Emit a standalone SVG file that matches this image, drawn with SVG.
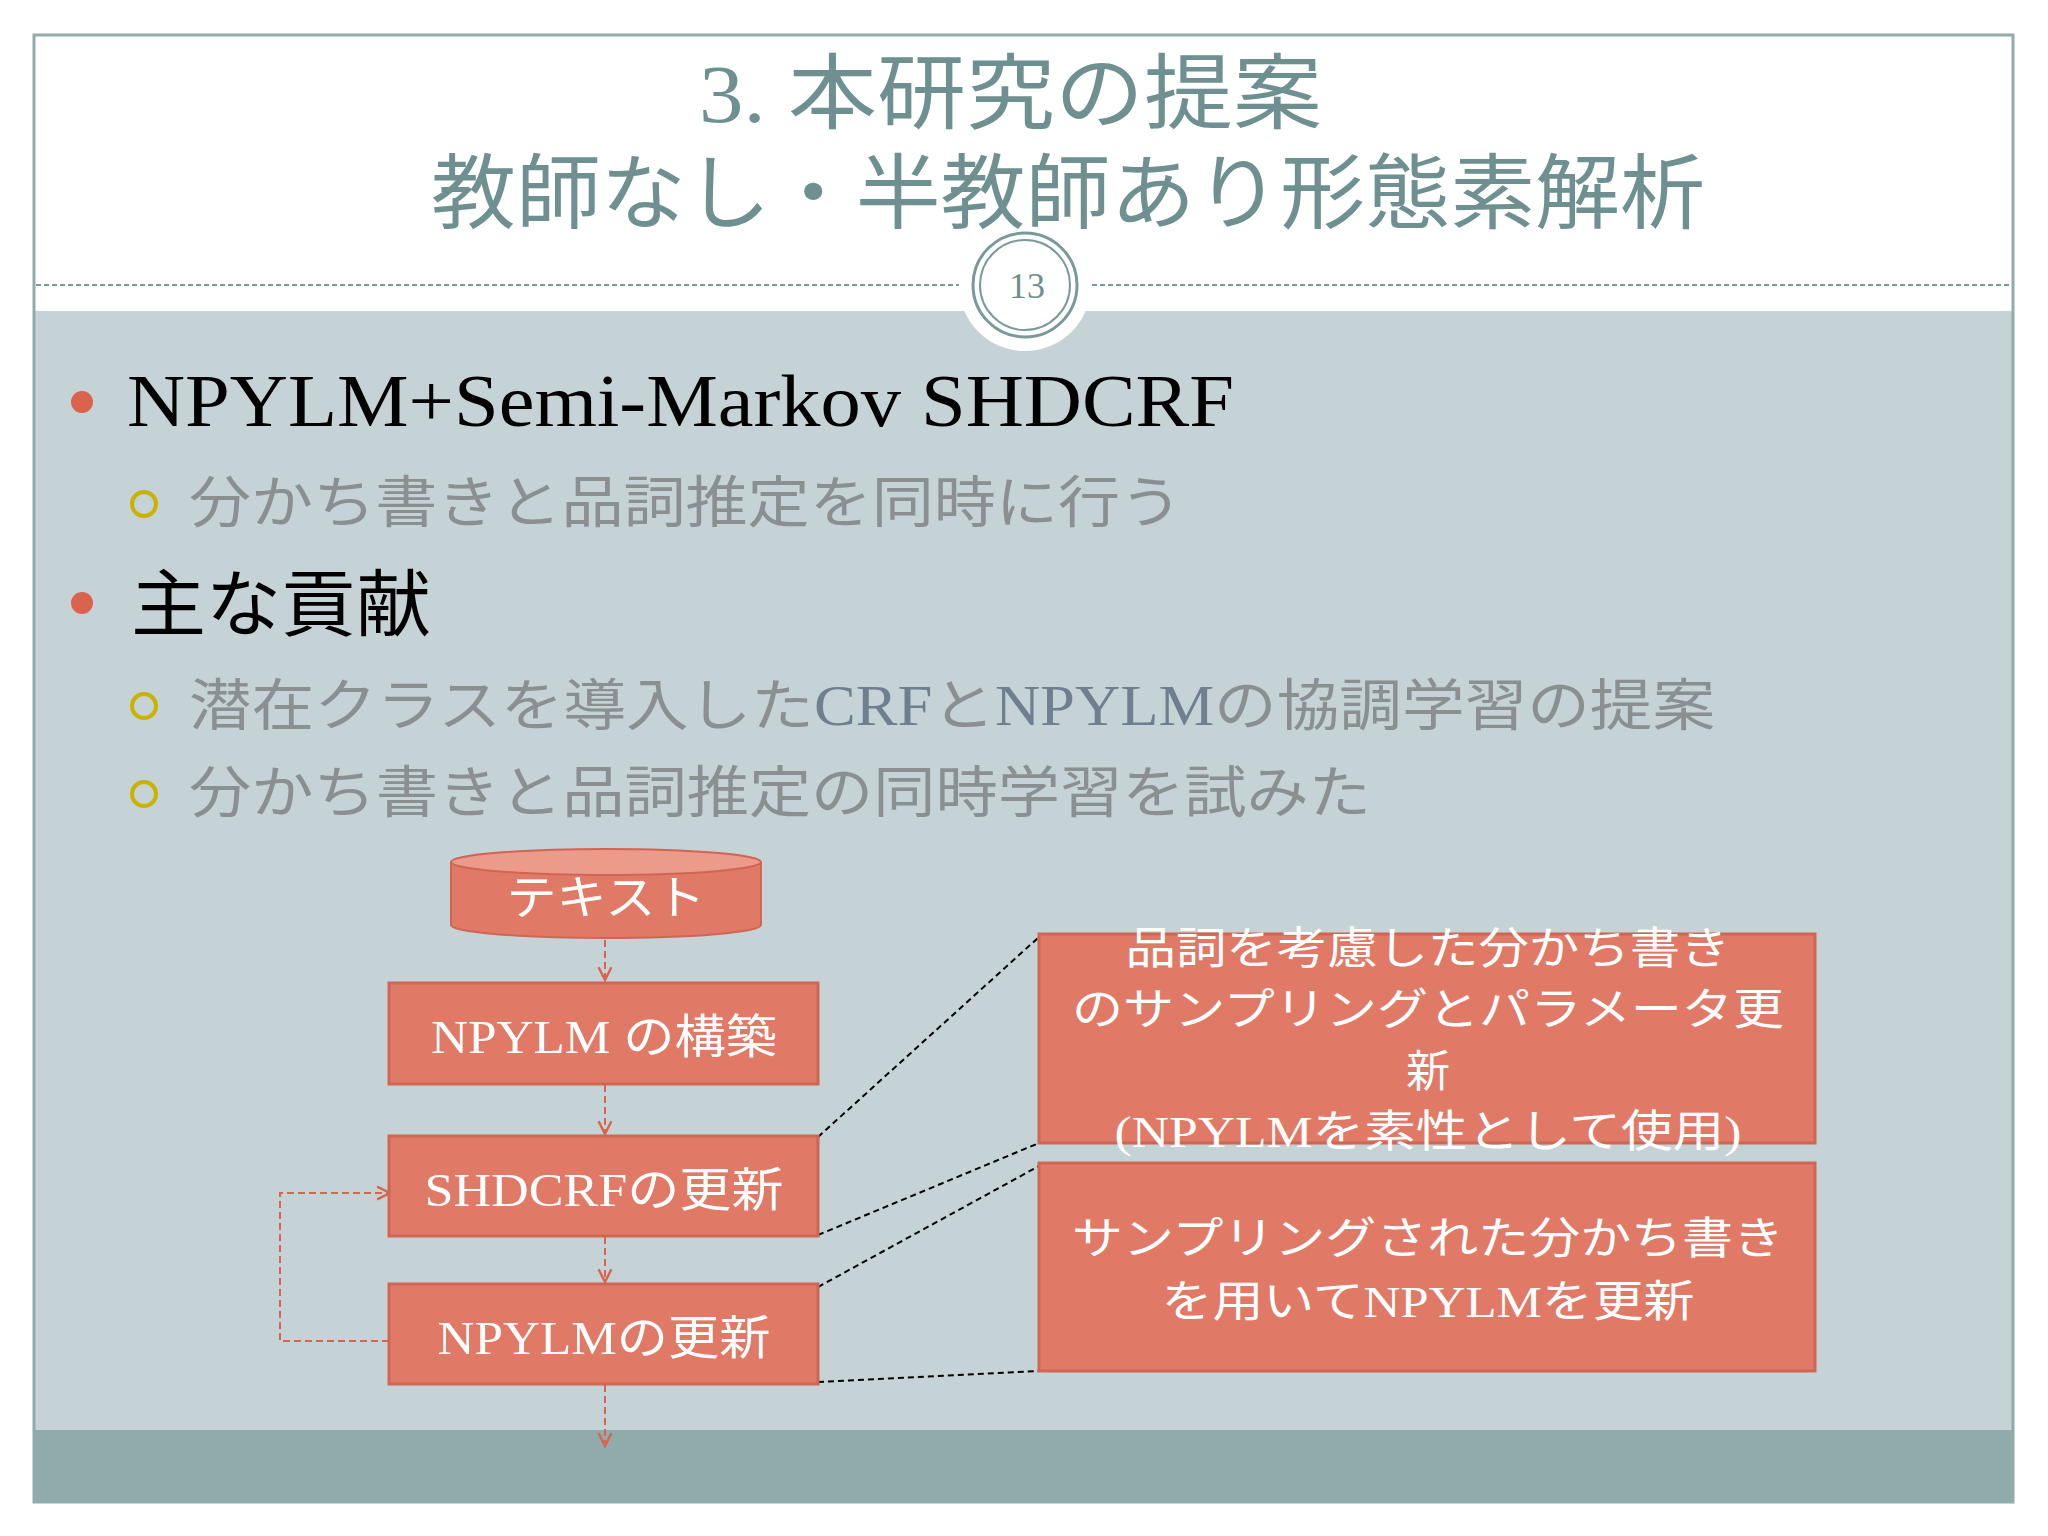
<svg xmlns="http://www.w3.org/2000/svg" width="2048" height="1536" viewBox="0 0 2048 1536">
<defs>
<style>
.t{font-family:"Liberation Serif","Noto Sans CJK JP",serif}
.box{fill:#e07966;stroke:#cf6653;stroke-width:3}
.bt{fill:#fff;font-size:47px;text-anchor:middle}
.bt2{fill:#fff;font-size:44px;text-anchor:middle}
.sub{fill:#8a8f92;font-size:56px}
.dl{stroke:#000;stroke-width:2;stroke-dasharray:6,4;fill:none}
.rl{stroke:#d9634c;stroke-width:2;stroke-dasharray:7,4;fill:none}
</style>
<marker id="ah" viewBox="0 0 10 10" refX="9" refY="5" markerWidth="8" markerHeight="8" orient="auto"><path d="M1,1 L9,5 L1,9" fill="none" stroke="#d9634c" stroke-width="1.5"/></marker>
</defs>
<rect width="2048" height="1536" fill="#fff"/>
<rect x="34" y="311" width="1979" height="1119" fill="#c5d2d6"/>
<rect x="34" y="1430" width="1979" height="72" fill="#8fabab"/>
<rect x="34" y="35" width="1979" height="1467" fill="none" stroke="#8fabab" stroke-width="3"/>
<line x1="36" y1="285" x2="2011" y2="285" stroke="#7a9a9a" stroke-width="2" stroke-dasharray="5,3"/>
<circle cx="1025" cy="285" r="66" fill="#fff"/>
<circle cx="1025" cy="285" r="52" fill="#fff" stroke="#7a9a9a" stroke-width="3"/>
<circle cx="1025" cy="285" r="45" fill="none" stroke="#7a9a9a" stroke-width="2"/>
<text class="t" x="1027" y="298" font-size="36" fill="#6f8f8f" text-anchor="middle">13</text>
<g id="title" class="t" fill="#6f9090">
<text x="699" y="122" font-size="82" textLength="623" lengthAdjust="spacingAndGlyphs">3.  本研究の提案</text>
<text x="431" y="222" font-size="82" textLength="1274" lengthAdjust="spacingAndGlyphs">教師なし・半教師あり形態素解析</text>
</g>
<g id="bullets" class="t">
<circle cx="82" cy="402" r="11" fill="#d9634c"/>
<text x="127" y="426" font-size="73" fill="#000" textLength="1107" lengthAdjust="spacingAndGlyphs">NPYLM+Semi-Markov SHDCRF</text>
<circle cx="144" cy="504" r="12" fill="none" stroke="#c9b300" stroke-width="4"/>
<text class="sub" x="189" y="522" textLength="993" lengthAdjust="spacingAndGlyphs">分かち書きと品詞推定を同時に行う</text>
<circle cx="82" cy="603" r="11" fill="#d9634c"/>
<text x="131" y="630" font-size="73" fill="#000" textLength="300" lengthAdjust="spacingAndGlyphs">主な貢献</text>
<circle cx="144" cy="706" r="12" fill="none" stroke="#c9b300" stroke-width="4"/>
<text class="sub" x="189" y="725" textLength="1526" lengthAdjust="spacingAndGlyphs">潜在クラスを導入した<tspan fill="#6f7f8f">CRF</tspan>と<tspan fill="#6f7f8f">NPYLM</tspan>の協調学習の提案</text>
<circle cx="144" cy="794" r="12" fill="none" stroke="#c9b300" stroke-width="4"/>
<text class="sub" x="189" y="812" textLength="1182" lengthAdjust="spacingAndGlyphs">分かち書きと品詞推定の同時学習を試みた</text>
</g>
<g id="connectors">
<line class="rl" x1="605" y1="940" x2="605" y2="980" marker-end="url(#ah)"/>
<line class="rl" x1="605" y1="1085" x2="605" y2="1134" marker-end="url(#ah)"/>
<line class="rl" x1="605" y1="1237" x2="605" y2="1282" marker-end="url(#ah)"/>
<line class="rl" x1="605" y1="1385" x2="605" y2="1446" marker-end="url(#ah)"/>
<path class="rl" d="M389,1341 H280 V1193 H390" marker-end="url(#ah)"/>
<line class="dl" x1="818" y1="1137" x2="1039" y2="937"/>
<line class="dl" x1="818" y1="1235" x2="1039" y2="1143"/>
<line class="dl" x1="818" y1="1287" x2="1039" y2="1166"/>
<line class="dl" x1="818" y1="1382" x2="1039" y2="1371"/>
</g>
<g id="text-db" class="t">
<path d="M451,862 V925 A155,13 0 0 0 761,925 V862" fill="#e07966" stroke="#cf6653" stroke-width="2"/>
<ellipse cx="606" cy="862" rx="155" ry="13" fill="#ec9a8a" stroke="#cf6653" stroke-width="2"/>
<text class="bt" x="606" y="914" textLength="199" lengthAdjust="spacingAndGlyphs">テキスト</text>
</g>
<g id="n1" class="t"><rect class="box" x="389" y="983" width="429" height="101"/><text class="bt" x="604" y="1053" textLength="346" lengthAdjust="spacingAndGlyphs">NPYLM の構築</text></g>
<g id="n2" class="t"><rect class="box" x="389" y="1136" width="429" height="100"/><text class="bt" x="604" y="1206" textLength="359" lengthAdjust="spacingAndGlyphs">SHDCRFの更新</text></g>
<g id="n3" class="t"><rect class="box" x="389" y="1284" width="429" height="100"/><text class="bt" x="604" y="1354" textLength="333" lengthAdjust="spacingAndGlyphs">NPYLMの更新</text></g>
<g id="r1" class="t"><rect class="box" x="1039" y="934" width="776" height="209"/>
<text class="bt2" x="1428" y="964" textLength="605" lengthAdjust="spacingAndGlyphs">品詞を考慮した分かち書き</text>
<text class="bt2" x="1428" y="1025" textLength="712" lengthAdjust="spacingAndGlyphs">のサンプリングとパラメータ更</text>
<text class="bt2" x="1428" y="1087">新</text>
<text class="bt2" x="1428" y="1147" textLength="627" lengthAdjust="spacingAndGlyphs">(NPYLMを素性として使用)</text></g>
<g id="r2" class="t"><rect class="box" x="1039" y="1163" width="776" height="208"/>
<text class="bt2" x="1428" y="1254" textLength="712" lengthAdjust="spacingAndGlyphs">サンプリングされた分かち書き</text>
<text class="bt2" x="1428" y="1317" textLength="533" lengthAdjust="spacingAndGlyphs">を用いてNPYLMを更新</text></g>
</svg>
